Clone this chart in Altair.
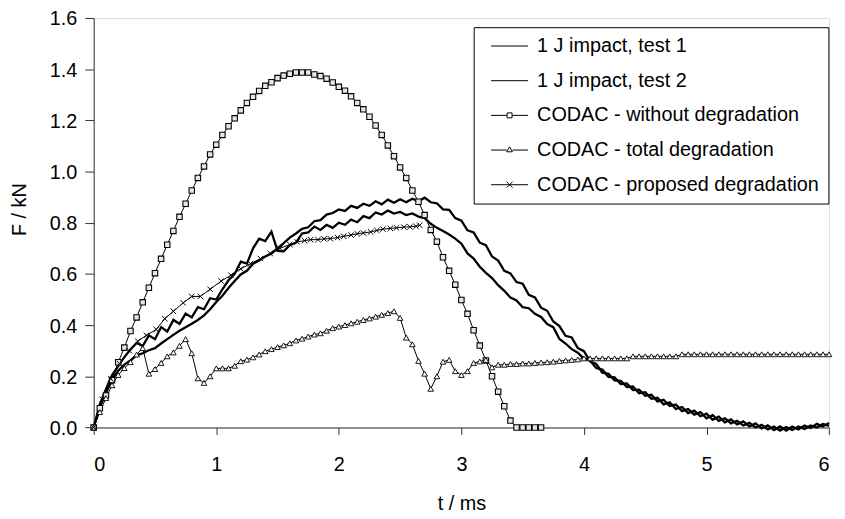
import altair as alt
import pandas as pd

# ---------------- data ----------------
names = ["1 J impact, test 1", "1 J impact, test 2",
         "CODAC - without degradation", "CODAC - total degradation",
         "CODAC - proposed degradation"]

t_test = [round(i * 0.05, 2) for i in range(121)]
test1 = [0.000, 0.082, 0.140, 0.188, 0.222, 0.246, 0.262, 0.282, 0.290, 0.302,
         0.310, 0.328, 0.345, 0.362, 0.378, 0.392, 0.405, 0.420, 0.438, 0.462,
         0.490, 0.515, 0.545, 0.572, 0.598, 0.612, 0.640, 0.652, 0.668, 0.680,
         0.700, 0.720, 0.742, 0.758, 0.776, 0.782, 0.806, 0.810, 0.832, 0.838,
         0.852, 0.846, 0.866, 0.858, 0.874, 0.866, 0.884, 0.872, 0.890, 0.878,
         0.892, 0.880, 0.894, 0.884, 0.898, 0.880, 0.876, 0.852, 0.850, 0.818,
         0.808, 0.770, 0.762, 0.722, 0.712, 0.668, 0.652, 0.612, 0.602, 0.568,
         0.562, 0.518, 0.508, 0.468, 0.456, 0.414, 0.396, 0.358, 0.352, 0.310,
         0.298, 0.258, 0.248, 0.214, 0.210, 0.184, 0.182, 0.158, 0.160, 0.134,
         0.138, 0.112, 0.116, 0.090, 0.098, 0.072, 0.080, 0.056, 0.066, 0.044,
         0.054, 0.030, 0.042, 0.020, 0.032, 0.012, 0.024, 0.004, 0.016, -0.004,
         0.008, -0.010, 0.004, -0.012, 0.004, -0.008, 0.008, -0.002, 0.014, 0.004,
         0.018]
test2 = [0.000, 0.090, 0.150, 0.205, 0.240, 0.275, 0.305, 0.330, 0.318, 0.360,
         0.345, 0.392, 0.375, 0.420, 0.405, 0.445, 0.430, 0.470, 0.462, 0.505,
         0.500, 0.540, 0.575, 0.600, 0.648, 0.640, 0.700, 0.738, 0.728, 0.765,
         0.690, 0.688, 0.712, 0.722, 0.758, 0.762, 0.785, 0.772, 0.792, 0.780,
         0.800, 0.792, 0.812, 0.802, 0.826, 0.818, 0.840, 0.832, 0.848, 0.836,
         0.842, 0.830, 0.836, 0.824, 0.818, 0.796, 0.780, 0.768, 0.754, 0.738,
         0.718, 0.680, 0.660, 0.628, 0.604, 0.584, 0.556, 0.534, 0.508, 0.496,
         0.470, 0.466, 0.444, 0.432, 0.404, 0.392, 0.346, 0.328, 0.306, 0.292,
         0.268, 0.262, 0.232, 0.226, 0.198, 0.196, 0.170, 0.172, 0.146, 0.148,
         0.124, 0.128, 0.102, 0.108, 0.084, 0.090, 0.064, 0.072, 0.050, 0.060,
         0.036, 0.048, 0.026, 0.036, 0.016, 0.026, 0.008, 0.018, 0.000, 0.010,
         -0.008, 0.004, -0.012, 0.002, -0.010, 0.004, -0.006, 0.008, 0.000, 0.014,
         0.006]

t_nodeg = [round(i * 0.05, 2) for i in range(74)]
f_nodeg = [0, 0.075, 0.125, 0.185, 0.255, 0.312, 0.377, 0.43, 0.489, 0.546,
           0.603, 0.659, 0.714, 0.768, 0.823, 0.874, 0.926, 0.975, 1.02, 1.067,
           1.105, 1.143, 1.177, 1.208, 1.239, 1.268, 1.292, 1.315, 1.335, 1.349,
           1.365, 1.375, 1.382, 1.387, 1.387, 1.387, 1.379, 1.373, 1.363, 1.348,
           1.331, 1.316, 1.294, 1.268, 1.243, 1.214, 1.18, 1.143, 1.102, 1.06,
           1.016, 0.975, 0.926, 0.882, 0.83, 0.772, 0.726, 0.665, 0.612, 0.558,
           0.498, 0.444, 0.38, 0.32, 0.262, 0.2, 0.14, 0.083, 0.027, 0,
           0, 0, 0, 0]

t_total = [round(i * 0.05, 2) for i in range(121)]
f_total = [0, 0.06, 0.115, 0.165, 0.205, 0.232, 0.255, 0.285, 0.31, 0.21,
           0.228, 0.252, 0.278, 0.293, 0.319, 0.345, 0.29, 0.192, 0.174, 0.2,
           0.231, 0.231, 0.231, 0.241, 0.259, 0.265, 0.274, 0.285, 0.298, 0.306,
           0.314, 0.321, 0.329, 0.34, 0.347, 0.355, 0.363, 0.368, 0.378, 0.388,
           0.394, 0.4, 0.407, 0.413, 0.42, 0.426, 0.433, 0.44, 0.447, 0.454,
           0.428, 0.351, 0.325, 0.26, 0.21, 0.151, 0.2, 0.257, 0.264, 0.22,
           0.205, 0.22, 0.252, 0.258, 0.264, 0.235, 0.245, 0.245, 0.248, 0.248,
           0.25, 0.25, 0.252, 0.254, 0.255, 0.257, 0.26, 0.262, 0.264, 0.266,
           0.27, 0.27, 0.27, 0.27, 0.27, 0.27, 0.27, 0.27, 0.278, 0.278,
           0.278, 0.278, 0.278, 0.278, 0.278, 0.278, 0.286, 0.286, 0.286, 0.286,
           0.286, 0.286, 0.286, 0.286, 0.286, 0.286, 0.286, 0.286, 0.286, 0.286,
           0.286, 0.286, 0.286, 0.286, 0.286, 0.286, 0.286, 0.286, 0.286, 0.286,
           0.286]

t_prop = [0, 0.07, 0.14, 0.21, 0.29, 0.36, 0.43, 0.51, 0.58, 0.65,
          0.73, 0.80, 0.87, 0.95, 1.04, 1.12, 1.20, 1.28, 1.36, 1.44,
          1.52, 1.60, 1.66, 1.72, 1.77, 1.83, 1.88, 1.93, 1.99, 2.04,
          2.10, 2.15, 2.20, 2.26, 2.31, 2.36, 2.42, 2.47, 2.53, 2.58,
          2.63, 2.66]
f_prop = [0, 0.11, 0.19, 0.25, 0.30, 0.337, 0.36, 0.383, 0.425, 0.454,
          0.487, 0.512, 0.512, 0.54, 0.572, 0.595, 0.62, 0.64, 0.66, 0.68,
          0.70, 0.715, 0.725, 0.73, 0.734, 0.734, 0.737, 0.738, 0.742, 0.747,
          0.752, 0.757, 0.76, 0.764, 0.77, 0.775, 0.778, 0.78, 0.783, 0.784,
          0.786, 0.79]

# ---------------- table ----------------
rows = []
for tt, ff in zip(t_test, test1):
    rows.append({"t": tt, "F": ff, "series": names[0]})
for tt, ff in zip(t_test, test2):
    rows.append({"t": tt, "F": ff, "series": names[1]})
for tt, ff in zip(t_nodeg, f_nodeg):
    rows.append({"t": tt, "F": ff, "series": names[2]})
for tt, ff in zip(t_total, f_total):
    rows.append({"t": tt, "F": ff, "series": names[3]})
for tt, ff in zip(t_prop, f_prop):
    rows.append({"t": tt, "F": ff, "series": names[4]})
df = pd.DataFrame(rows)

FONT = "Liberation Sans"
TICK_FS = 20

x_enc = alt.X("t:Q", scale=alt.Scale(domain=[0, 6], nice=False),
              axis=alt.Axis(values=[0, 1, 2, 3, 4, 5, 6], format="d", title="t / ms",
                            labelFontSize=TICK_FS, titleFontSize=TICK_FS,
                            labelFont=FONT, titleFont=FONT,
                            labelColor="black", titleColor="black",
                            titleFontWeight="normal",
                            tickSize=7, labelBaseline="alphabetic", labelPadding=36,
                            titleY=83, titleBaseline="alphabetic",
                            domainColor="#333333", tickColor="#333333", grid=False))
y_enc = alt.Y("F:Q", scale=alt.Scale(domain=[0, 1.6], nice=False),
              axis=alt.Axis(values=[0, 0.2, 0.4, 0.6, 0.8, 1.0, 1.2, 1.4, 1.6],
                            format=".1f", title="F / kN",
                            labelFontSize=TICK_FS, titleFontSize=TICK_FS,
                            labelFont=FONT, titleFont=FONT,
                            labelColor="black", titleColor="black",
                            titleFontWeight="normal",
                            tickSize=9, labelPadding=8, labelOffset=1,
                            titleX=-75, titleY=193, titleAngle=270,
                            titleAlign="center", titleBaseline="middle",
                            domainColor="#333333", tickColor="#333333", grid=False))

base = alt.Chart(df).encode(x=x_enc, y=y_enc)

tests = base.transform_filter(
    alt.FieldOneOfPredicate(field="series", oneOf=names[:2])
).mark_line(color="black", strokeWidth=2.3, strokeJoin="miter").encode(detail="series:N")

codac_lines = base.transform_filter(
    alt.FieldOneOfPredicate(field="series", oneOf=names[2:])
).mark_line(color="black", strokeWidth=1).encode(detail="series:N")

squares = base.transform_filter(alt.datum.series == names[2]).mark_point(
    shape="square", size=30, filled=True, fill="#e6e6e6", stroke="black",
    strokeWidth=1.1, opacity=1)
triangles = base.transform_filter(alt.datum.series == names[3]).mark_point(
    shape="triangle-up", size=32, filled=True, fill="white", stroke="black",
    strokeWidth=0.9, opacity=1)
crosses = base.transform_filter(alt.datum.series == names[4]).mark_point(
    shape="M-1,-1L1,1M1,-1L-1,1", size=30, filled=False, stroke="black",
    strokeWidth=1, opacity=1)

legend_paths = [
    "M-0.3,0H7.2",
    "M-0.3,0H7.2",
    "M-0.3,0H2.95M3.95,0H7.2M2.95,-0.5H3.95V0.5H2.95Z",
    "M-0.3,0H2.87M4.03,0H7.2M2.87,0.35L3.45,-0.65L4.03,0.35Z",
    "M-0.3,0H7.2M2.85,-0.6L4.05,0.6M2.85,0.6L4.05,-0.6",
]

legend_layer = base.mark_point(filled=False, color="black", opacity=0, size=100).encode(
    shape=alt.Shape("series:N",
                    scale=alt.Scale(domain=names, range=legend_paths),
                    legend=alt.Legend(title=None, orient="none", legendX=383.5, legendY=9.3,
                                      symbolSize=100, symbolStrokeWidth=1,
                                      symbolStrokeColor="black", symbolOpacity=1,
                                      labelFont=FONT, labelFontSize=20, labelColor="black",
                                      labelOffset=35, labelLimit=500,
                                      rowPadding=15, padding=9,
                                      strokeColor="black", fillColor="white"))
)

chart = alt.layer(tests, codac_lines, squares, triangles, crosses, legend_layer).properties(
    width=742.2, height=413.3,
    autosize=alt.AutoSizeParams(type="none"),
    padding={"left": 86.5, "top": 7.7, "right": 8, "bottom": 90},
).configure_view(stroke="#8c8c8c", strokeWidth=1).configure(background="white")

chart.save("out.html", embed_options={"renderer": "svg", "actions": False})
